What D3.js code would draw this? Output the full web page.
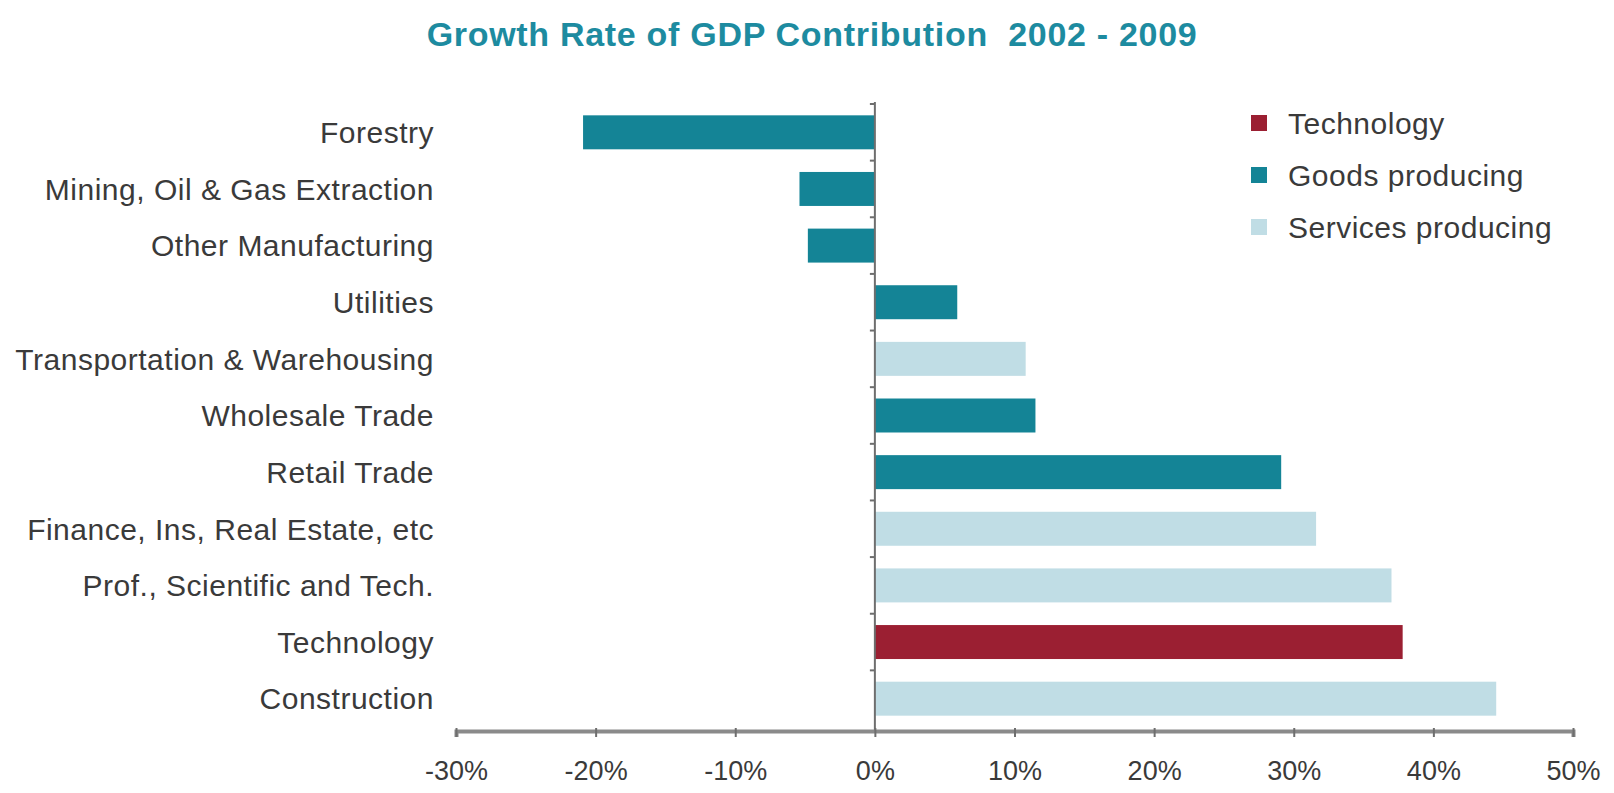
<!DOCTYPE html>
<html>
<head>
<meta charset="utf-8">
<script src="https://cdn.jsdelivr.net/npm/d3@7"></script>
<style>
  html, body { margin: 0; padding: 0; background: #fff; }
  svg { display: block; }
  text { font-family: "Liberation Sans", Arial, Helvetica, sans-serif; }
</style>
</head>
<body>
<svg id="chart" width="1614" height="793"></svg>
<script>
// Growth in GDP contribution by industry, 2002-2009 (percent)
const categories = [
  "Forestry",
  "Mining, Oil & Gas Extraction",
  "Other Manufacturing",
  "Utilities",
  "Transportation & Warehousing",
  "Wholesale Trade",
  "Retail Trade",
  "Finance, Ins, Real Estate, etc",
  "Prof., Scientific and Tech.",
  "Technology",
  "Construction"
];
const growth = [-20.9, -5.4, -4.8, 5.9, 10.8, 11.5, 29.1, 31.6, 37.0, 37.8, 44.5];
const sector = [
  "Goods producing", "Goods producing", "Goods producing", "Goods producing",
  "Services producing", "Goods producing", "Goods producing",
  "Services producing", "Services producing", "Technology", "Services producing"
];
const legendKeys = ["Technology", "Goods producing", "Services producing"];
const legendColors = ["#9b1f32", "#148496", "#c0dde5"];
const xTicks = [-30, -20, -10, 0, 10, 20, 30, 40, 50];

const rows = categories.map((c, i) => ({ name: c, value: growth[i], sector: sector[i] }));

const svg = d3.select("#chart");
const color = d3.scaleOrdinal().domain(legendKeys).range(legendColors);

const x = d3.scaleLinear().domain([-30, 50]).range([456, 1573]);
const y = d3.scaleBand().domain(categories).range([104, 727])
  .paddingInner(0.4).paddingOuter(0.2);
const axisY = 731;

// Title
svg.append("text")
  .attr("x", 812).attr("y", 46)
  .attr("text-anchor", "middle")
  .attr("fill", "#1d8ba0")
  .attr("font-size", 34)
  .attr("font-weight", "bold")
  .attr("letter-spacing", 0.7)
  .text("Growth Rate of GDP Contribution\u00a0\u00a02002 - 2009");

// Bars
svg.append("g").selectAll("rect").data(rows).join("rect")
  .attr("x", d => x(Math.min(0, d.value)))
  .attr("width", d => Math.abs(x(d.value) - x(0)))
  .attr("y", d => y(d.name))
  .attr("height", y.bandwidth())
  .attr("fill", d => color(d.sector));

// Category labels
svg.append("g").selectAll("text").data(rows).join("text")
  .attr("x", x(-30) - 22)
  .attr("y", d => y(d.name) + y.bandwidth() / 2)
  .attr("dy", "0.36em")
  .attr("text-anchor", "end")
  .attr("fill", "#3a3a3a")
  .attr("font-size", 30)
  .attr("letter-spacing", 0.5)
  .text(d => d.name);

// Vertical zero line with ticks at band boundaries
const step = y.step();
const bounds = d3.range(categories.length).map(i => y(categories[i]) - (step - y.bandwidth()) / 2);
const zeroAxis = svg.append("g");
zeroAxis.append("line")
  .attr("x1", x(0)).attr("x2", x(0))
  .attr("y1", bounds[0] - 2).attr("y2", axisY)
  .attr("stroke", "#6e6e6e").attr("stroke-width", 2);
zeroAxis.selectAll("line.tk").data(bounds).join("line")
  .attr("class", "tk")
  .attr("x1", x(0) - 5).attr("x2", x(0))
  .attr("y1", d => d).attr("y2", d => d)
  .attr("stroke", "#6e6e6e").attr("stroke-width", 2);

// Horizontal value axis
const xAxis = d3.axisBottom(x)
  .tickValues(xTicks)
  .tickSize(6)
  .tickPadding(24)
  .tickFormat(d => d + "%");
const gx = svg.append("g")
  .attr("transform", `translate(0,${axisY})`)
  .call(xAxis);
gx.select(".domain")
  .attr("stroke", "#8a8a8a").attr("stroke-width", 4);
gx.selectAll(".tick line")
  .attr("stroke", "#6e6e6e").attr("stroke-width", 2)
  .attr("y1", -3);
gx.selectAll(".tick text")
  .attr("fill", "#3a3a3a")
  .attr("font-size", 27)
  .attr("font-family", "'Liberation Sans', Arial, sans-serif");

// Legend
const legend = svg.append("g").selectAll("g").data(legendKeys).join("g")
  .attr("transform", (d, i) => `translate(1251,${123 + i * 52})`);
legend.append("rect")
  .attr("x", 0).attr("y", -8)
  .attr("width", 16).attr("height", 16)
  .attr("fill", d => color(d));
legend.append("text")
  .attr("x", 37).attr("y", 0).attr("dy", "0.36em")
  .attr("fill", "#3a3a3a")
  .attr("font-size", 30)
  .attr("letter-spacing", 0.5)
  .text(d => d);
</script>
</body>
</html>
